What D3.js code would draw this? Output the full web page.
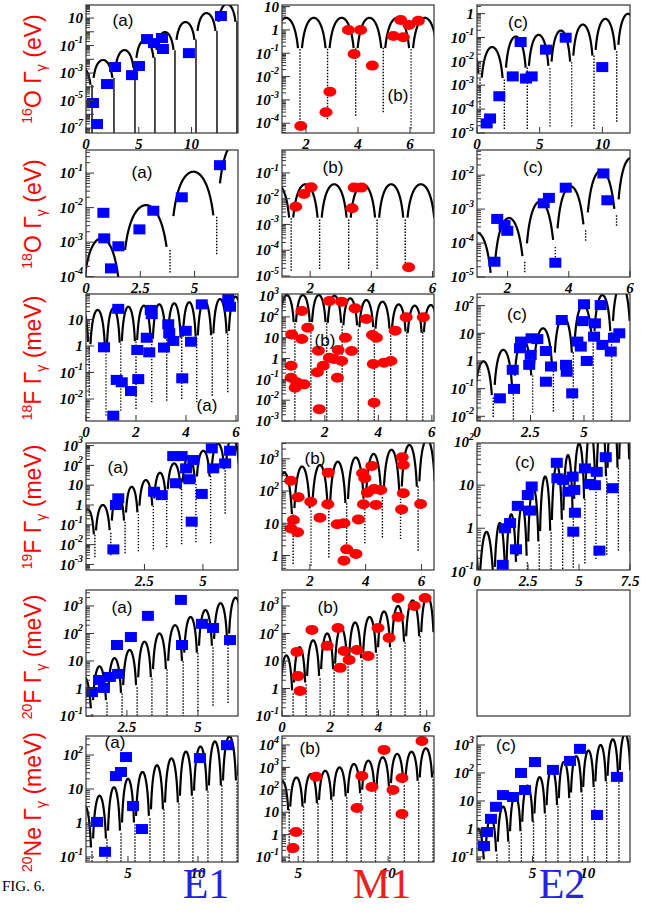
<!DOCTYPE html>
<html><head><meta charset="utf-8">
<script src="https://cdn.jsdelivr.net/npm/d3@7"></script>
<style>body{margin:0;background:#fff}svg{display:block}</style>
</head><body>
<svg id="c" width="657" height="913"></svg>
<script>
// ================= DATA (x in MeV, widths as log10) =================
// --- 16O ---
const o16E1Zeros=[-1.45,0.57,2.65,4.64,6.53,8.43,10.42,12.41,14.3,16.2];
const o16E1Peaks=[-2.56,-2.05,-1.33,-0.6,-0.02,0.71,1.36,2.02,2.6];
const o16E1Mins=[-9,-9,-9,-9,-9,-9,-9,-9,-9,-9];
const o16E1X=[0.66,1.04,1.99,2.75,4.36,5.02,5.78,6.44,7.2,7.29,9.75,12.78];
const o16E1LogG=[-5.18,-6.71,-3.8,-2.56,-3.15,-2.49,-0.53,-0.82,-0.45,-1.25,-1.55,1.15];

const o16M1Zeros=[0.7,1.77,2.83,3.91,4.97,6.04,7.1];
const o16M1Peaks=[0.52,0.52,0.52,0.52,0.52,0.52];
const o16M1Mins=[-4,-4.08,-3.8,-3.65,-3.5,-4.2,-4];
const o16M1X=[1.8,2.77,2.92,3.63,4.1,3.85,4.55,5.36,5.64,5.96,5.74,6.32];
const o16M1LogG=[-4.12,-3.53,-2.65,0.0,0.0,-1.03,-1.53,-0.26,0.43,0.21,-0.31,0.39];

const o16E2Zeros=[-1.66,0.24,2.18,4.01,5.82,7.55,9.33,11.14,12.95];
const o16E2Peaks=[-1.2,-1.4,-0.96,-0.89,-0.71,-0.46,-0.22,-0.01];
const o16E2Mins=[-6,-4.04,-4.8,-4.8,-4.7,-4.7,-4.8,-4.5,-5];
const o16E2X=[0.77,1.04,1.78,2.85,3.48,3.91,4.36,5.5,7.07,9.99];
const o16E2LogG=[-4.6,-4.39,-3.46,-2.63,-1.19,-2.72,-2.63,-1.51,-1.01,-2.24];

// --- 18O ---
const o18E1Zeros=[-0.22,1.64,3.87,6.02,8.1];
const o18E1Peaks=[-2.89,-1.93,-0.96,0.0];
const o18E1Mins=[-6,-5,-3.86,-3.33,-3];
const o18E1X=[0.8,0.84,1.49,1.15,2.46,3.1,4.41,6.17];
const o18E1LogG=[-2.15,-2.89,-3.12,-3.76,-2.63,-2.09,-1.7,-0.77];

const o18M1Zeros=[0.45,1.38,2.31,3.26,4.19,5.11,6.13];
const o18M1Peaks=[-1.44,-1.44,-1.44,-1.44,-1.44,-1.44];
const o18M1Mins=[-5,-4.77,-4.7,-4.7,-4.7,-4.7,-5];
const o18M1X=[1.53,1.8,2.03,3.37,3.44,3.67,5.22];
const o18M1LogG=[-2.31,-1.82,-1.56,-2.37,-1.57,-1.57,-4.66];

const o18E2Zeros=[0.48,1.52,2.56,3.56,4.55,5.56,6.5];
const o18E2Peaks=[-3.7,-3.27,-2.78,-2.34,-1.87,-1.5];
const o18E2Mins=[-6,-5.5,-4.84,-4.4,-3.91,-3.47,-3];
const o18E2X=[1.57,1.66,1.9,1.99,3.18,3.35,3.56,3.9,5.13,5.26];
const o18E2LogG=[-4.55,-3.29,-3.47,-3.64,-2.83,-2.67,-4.58,-2.37,-1.95,-2.74];

// --- 18F ---
const f18E1Zeros=[-0.48,0.13,0.8,1.39,2.0,2.63,3.23,3.83,4.43,5.05,5.67,6.29];
const f18E1Peaks=[1.45,1.36,1.42,1.48,1.52,1.57,1.61,1.65,1.7,1.77,1.86];
const f18E1Mins=[-3,-1.85,-2.6,-2.42,-2.35,-2.1,-2.04,-1.97,-2.1,-1.85,-1.72,-2];
const f18E1X=[1.29,0.72,1.23,1.43,1.8,2.09,2.05,2.43,2.53,2.59,2.63,3.29,3.33,3.12,3.49,3.85,3.99,4.2,4.63,5.69,5.76,1.09];
const f18E1LogG=[1.4,-0.05,-1.28,-1.37,-1.7,-1.25,-0.15,0.31,-0.24,1.36,1.2,0.82,0.48,-0.06,0.19,-1.22,0.57,0.16,1.57,1.77,1.48,-2.63];

const f18M1Zeros=[0.28,0.88,1.48,2.07,2.65,3.25,3.85,4.46,5.06,5.66,6.26];
const f18M1Peaks=[3.05,3.05,3.05,3.02,2.89,2.81,2.73,2.6,2.54,2.57];
const f18M1Mins=[-3.2,-3.2,-3.2,-3.2,-3.2,-3.2,-3.2,-3.2,-3.2,-3.2,-3.2];
const f18M1X=[1.14,0.76,1.14,1.36,0.74,0.74,0.95,1.22,0.89,1.76,1.72,1.94,2.17,2.34,2.17,2.63,2.47,2.5,2.77,2.63,3.0,3.13,1.79,3.55,3.78,3.93,3.81,4.21,4.47,4.63,3.84,5.04,5.68];
const f18M1LogG=[2.28,1.16,0.94,1.48,-0.35,-0.92,-1.14,-1.24,-1.4,0.38,-0.66,-0.35,0.04,-0.02,2.76,2.73,-0.92,0.41,1.0,-0.12,0.36,2.41,-2.43,1.9,1.13,1.0,-0.26,-0.2,-0.12,1.34,-2.12,1.98,1.98];

const f18E2Zeros=[-0.16,0.76,1.7,2.6,3.57,4.5,5.43,6.29,7.2];
const f18E2Peaks=[-0.02,0.4,0.76,1.18,1.6,2.02,2.38,2.75];
const f18E2Mins=[-3,-2.0,-2.1,-1.85,-1.8,-2.1,-2.1,-2.3,-2.3];
const f18E2X=[1.07,1.67,1.73,2.01,2.06,2.44,2.55,2.82,2.51,3.22,3.22,3.46,3.96,4.16,4.19,4.45,4.69,4.85,5.13,5.0,4.94,5.47,5.51,5.78,5.86,6.25,6.4,6.65];
const f18E2LogG=[-1.35,-0.32,-1.01,0.46,0.7,-0.14,0.82,0.79,0.22,0.36,-0.75,-0.2,1.48,-0.14,-0.39,-1.17,0.7,0.52,0,2.05,1.44,0.88,1.36,2.02,0.58,0.34,0.84,1.0];

// --- 19F ---
const f19E1Zeros=[-0.24,0.38,1.06,1.67,2.24,2.88,3.45,4.09,4.7,5.33,5.95,6.57];
const f19E1Peaks=[-0.22,0.0,0.5,0.92,1.26,1.63,2.1,2.44,2.74,3.1,3.4];
const f19E1Mins=[-4,-2.6,-2.5,-2.4,-2.3,-2.2,-2.1,-1.95,-1.85,-1.9,-0.4,-1];
const f19E1X=[1.17,1.28,1.38,2.91,3.24,3.85,4.09,4.28,4.42,4.52,4.59,4.95,5.38,5.44,6.16,5.95,3.73];
const f19E1LogG=[-2.24,0,0.34,0.67,0.5,1.1,2.47,1.85,1.3,-0.84,2.27,0.56,2.86,1.85,2.74,2.1,2.47];

const f19M1Zeros=[0.76,1.4,2.04,2.68,3.32,3.97,4.6,5.25,5.88,6.52];
const f19M1Peaks=[2.57,2.76,2.81,2.91,3.04,3.15,3.28,3.43,3.6];
const f19M1Mins=[-1,-0.24,-0.3,-0.04,0.2,0.4,0.58,0.53,0.17,0];
const f19M1X=[1.31,1.58,1.41,1.32,1.56,2.03,2.36,2.66,2.64,2.98,3.22,3.32,3.22,3.65,3.74,3.89,3.97,4.06,3.92,4.22,4.3,4.54,4.37,5.31,5.35,5.35,5.29,5.97];
const f19M1LogG=[2.32,1.81,1.1,0.84,0.72,1.67,1.17,2.57,1.59,0.97,1.0,0.19,-0.16,0.05,1.12,2.55,2.4,1.95,1.59,2.78,2.06,2.03,1.57,3.05,2.81,1.93,1.43,1.6];

const f19E2Zeros=[-0.5,0.1,0.83,1.41,1.95,2.47,3.05,3.63,4.2,4.72,5.29,5.83,6.36,6.93,7.5];
const f19E2Peaks=[-0.3,-0.12,0.1,0.31,0.52,0.93,1.2,1.47,1.7,1.97,2.3,2.5,2.7,2.9];
const f19E2Mins=[-2,-1.2,-1.2,-1.2,-1.2,-1.2,-1.2,-1.1,-1.0,-0.9,-0.8,-0.7,-0.6,-0.5,-0.5];
const f19E2X=[1.26,1.37,1.62,1.91,2.0,2.49,2.6,2.68,3.91,3.94,4.23,4.48,4.69,4.77,4.8,4.72,5.29,5.54,5.78,5.87,6.0,6.31,6.65];
const f19E2LogG=[-0.85,0,0.12,-0.49,0.52,0.77,0.41,0.97,1.52,1.16,1.12,0.85,1.2,0.89,0.36,-0.08,1.39,1.03,1.0,1.31,-0.52,1.65,0.93];

// --- 20F ---
const f20E1Zeros=[0.74,1.27,1.8,2.33,2.86,3.38,3.91,4.48,5.0,5.53,6.06,6.59];
const f20E1Peaks=[0.4,0.8,1.1,1.4,1.7,2.0,2.3,2.6,2.85,3.1,3.3];
const f20E1Mins=[-1.5,-1.2,-1.2,-1.2,-1.2,-1.2,-1.1,-1,-0.8,-0.6,-0.5,-0.5];
const f20E1X=[1.27,1.52,1.69,1.9,2.19,2.15,2.64,3.24,4.4,4.44,5.14,5.53,6.13];
const f20E1LogG=[-0.13,0.31,0.02,0.42,0.53,1.58,1.87,2.64,3.22,1.58,2.35,2.2,1.76];

const f20M1Zeros=[-0.1,0.46,1.0,1.58,2.16,2.74,3.32,3.94,4.52,5.1,5.73,6.32];
const f20M1Peaks=[1.2,1.5,1.75,2.0,2.2,2.4,2.6,2.8,3.0,3.2,3.35];
const f20M1Mins=[-1.2,-1.2,-1.2,-1.2,-1.2,-1.2,-1.2,-1.2,-1.2,-1.2,-1.2,-1.2];
const f20M1X=[0.62,0.66,0.75,1.24,1.87,2.32,2.57,2.78,2.41,3.11,3.57,3.98,4.44,4.81,4.81,5.48,5.93];
const f20M1LogG=[1.33,0.45,-0.09,2.13,1.55,2.2,1.36,1.04,0.75,1.4,1.18,2.2,1.84,2.6,3.29,3.0,3.29];

// --- 20Ne ---
const ne20E1Zeros=[1.4,2.43,3.5,4.5,5.5,6.57,7.57,8.64,9.64,10.71,11.71,12.79,13.8];
const ne20E1Peaks=[0.5,0.8,1.05,1.3,1.5,1.7,1.9,2.1,2.25,2.4,2.55,2.7];
const ne20E1Mins=[-1.5,-1.5,-1.5,-1.5,-1.5,-1.5,-1.5,-1.5,-1.5,-1.5,-1.5,-1.5,-1.5];
const ne20E1X=[2.79,3.36,4.14,4.5,4.86,5.36,6.0,10.14,12.07];
const ne20E1LogG=[0.03,-0.85,1.38,1.5,1.94,0.5,-0.18,1.91,2.29];

const ne20M1Zeros=[3.7,4.5,5.3,6.1,6.9,7.7,8.5,9.3,10.1,10.9,11.7,12.5,13.3];
const ne20M1Peaks=[2.4,2.55,2.7,2.85,3.0,3.15,3.3,3.45,3.6,3.7,3.85,4.0];
const ne20M1Mins=[-1.5,-1.5,-1.5,-1.5,-1.5,-1.5,-1.5,-1.5,-1.5,-1.5,-1.5,-1.5,-1.5];
const ne20M1X=[4.71,4.88,5.99,8.27,8.54,9.1,9.77,10.27,10.77,10.77,11.88];
const ne20M1LogG=[-0.6,0.12,2.58,1.19,2.62,2.13,3.78,1.99,2.53,0.92,4.18];

const ne20E2Zeros=[-0.5,0.7,1.8,2.9,4.0,5.1,6.2,7.3,8.4,9.5,10.6,11.7,12.8,13.9];
const ne20E2Peaks=[0,0.4,0.8,1.2,1.55,1.85,2.15,2.4,2.6,2.8,3.0,3.2,3.4];
const ne20E2Mins=[-1.5,-1.5,-1.5,-1.5,-1.5,-1.5,-1.5,-1.5,-1.5,-1.5,-1.5,-1.5,-1.5,-1.5];
const ne20E2X=[0.63,0.9,1.26,1.71,2.34,3.25,3.97,4.33,5.23,6.85,8.39,9.29,10.82,12.62];
const ne20E2LogG=[-0.61,-0.11,0.36,0.79,1.21,1.14,2.0,1.39,2.39,2.11,2.43,2.86,0.5,1.86];

// labels
const rowNuclei=[["16","O","eV"],["18","O","eV"],["18","F","meV"],["19","F","meV"],["20","F","meV"],["20","Ne","meV"]];
const multipoles=["E1","M1","E2"];

// ================= LAYOUT =================
const colX=[[86,238],[282,434],[477,630]];
const rowY=[[5,133],[150,277],[294,421],[443,570],[590,716],[736,862]];

const panels=[
 {r:0,c:0,xd:[0,14.4],yd:[-7.36,1.95],xt:[0,5,10],ye:[1,-1,-3,-5,-7],Z:o16E1Zeros,P:o16E1Peaks,M:o16E1Mins,X:o16E1X,G:o16E1LogG,lab:"(a)",lp:[123,20],gap:1.2},
 {r:0,c:1,xd:[1.08,6.92],yd:[-4.42,1.07],xt:[2,4,6],ye:[1,0,-1,-2,-3,-4],Z:o16M1Zeros,P:o16M1Peaks,M:o16M1Mins,X:o16M1X,G:o16M1LogG,lab:"(b)",lp:[398,95]},
 {r:0,c:2,xd:[0,12.2],yd:[-5.0,0.36],xt:[0,5,10],ye:[0,-1,-2,-3,-4,-5],Z:o16E2Zeros,P:o16E2Peaks,M:o16E2Mins,X:o16E2X,G:o16E2LogG,lab:"(c)",lp:[518,22]},
 {r:1,c:0,xd:[0,7],yd:[-4.01,-0.33],xt:[0,2.5,5],ye:[-1,-2,-3,-4],Z:o18E1Zeros,P:o18E1Peaks,M:o18E1Mins,X:o18E1X,G:o18E1LogG,lab:"(a)",lp:[142,172]},
 {r:1,c:1,xd:[1.08,6.05],yd:[-5.04,-0.11],xt:[2,4,6],ye:[-1,-2,-3,-4,-5],Z:o18M1Zeros,P:o18M1Peaks,M:o18M1Mins,X:o18M1X,G:o18M1LogG,lab:"(b)",lp:[333,167]},
 {r:1,c:2,xd:[1,6],yd:[-5.0,-1.26],xt:[2,4,6],ye:[-2,-3,-4,-5],Z:o18E2Zeros,P:o18E2Peaks,M:o18E2Mins,X:o18E2X,G:o18E2LogG,lab:"(c)",lp:[533,167]},
 {r:2,c:0,xd:[0,6.08],yd:[-2.83,1.96],xt:[0,2,4,6],ye:[1,0,-1,-2],Z:f18E1Zeros,P:f18E1Peaks,M:f18E1Mins,X:f18E1X,G:f18E1LogG,lab:"(a)",lp:[207,405]},
 {r:2,c:1,xd:[0.4,6.08],yd:[-3.0,3.1],xt:[2,4,6],ye:[3,2,1,0,-1,-2,-3],Z:f18M1Zeros,P:f18M1Peaks,M:f18M1Mins,X:f18M1X,G:f18M1LogG,lab:"(b)",lp:[325,340]},
 {r:2,c:2,xd:[0,7.15],yd:[-2.17,2.42],xt:[0,2.5,5],ye:[2,1,0,-1,-2],Z:f18E2Zeros,P:f18E2Peaks,M:f18E2Mins,X:f18E2X,G:f18E2LogG,lab:"(c)",lp:[517,314]},
 {r:3,c:0,xd:[0,6.5],yd:[-3.28,3.13],xt:[2.5,5],ye:[3,2,1,0,-1,-2,-3],Z:f19E1Zeros,P:f19E1Peaks,M:f19E1Mins,X:f19E1X,G:f19E1LogG,lab:"(a)",lp:[118,467]},
 {r:3,c:1,xd:[1,6.45],yd:[-0.45,3.49],xt:[2,4,6],ye:[3,2,1,0],Z:f19M1Zeros,P:f19M1Peaks,M:f19M1Mins,X:f19M1X,G:f19M1LogG,lab:"(b)",lp:[315,458]},
 {r:3,c:2,xd:[0,7.5],yd:[-0.97,1.98],xt:[0,2.5,5,7.5],ye:[2,1,0,-1],Z:f19E2Zeros,P:f19E2Peaks,M:f19E2Mins,X:f19E2X,G:f19E2LogG,lab:"(c)",lp:[525,462]},
 {r:4,c:0,xd:[1.06,6.41],yd:[-1.0,3.58],xt:[2.5,5],ye:[3,2,1,0,-1],Z:f20E1Zeros,P:f20E1Peaks,M:f20E1Mins,X:f20E1X,G:f20E1LogG,lab:"(a)",lp:[122,607]},
 {r:4,c:1,xd:[0,6.3],yd:[-1.0,3.58],xt:[0,2,4,6],ye:[3,2,1,0,-1],Z:f20M1Zeros,P:f20M1Peaks,M:f20M1Mins,X:f20M1X,G:f20M1LogG,lab:"(b)",lp:[328,607]},
 {r:4,c:2,empty:true},
 {r:5,c:0,xd:[2.0,12.86],yd:[-1.15,2.56],xt:[5,10],ye:[2,1,0,-1],Z:ne20E1Zeros,P:ne20E1Peaks,M:ne20E1Mins,X:ne20E1X,G:ne20E1LogG,lab:"(a)",lp:[115,742]},
 {r:5,c:1,xd:[4.1,12.55],yd:[-1.22,4.4],xt:[5,10],ye:[4,3,2,1,0,-1],Z:ne20M1Zeros,P:ne20M1Peaks,M:ne20M1Mins,X:ne20M1X,G:ne20M1LogG,lab:"(b)",lp:[310,748]},
 {r:5,c:2,xd:[0,13.8],yd:[-1.18,3.32],xt:[5,10],ye:[3,2,1,0,-1],Z:ne20E2Zeros,P:ne20E2Peaks,M:ne20E2Mins,X:ne20E2X,G:ne20E2LogG,lab:"(c)",lp:[506,745]}
];

const svg=d3.select("#c");
const defs=svg.append("defs");
const tickFont="'Liberation Serif','DejaVu Serif',serif";
const sansFont="'Liberation Sans',Arial,sans-serif";
const RED="#ff0000", BLUE="#0000ff";

function drawCurve(g,x,y,Z,P,M,gap,yb0){
  const line=d3.line().x(d=>x(d[0])).y(d=>y(d[1]));
  const depth=1.3;
  const xd=x.domain();
  const tc=Math.asin(Math.sqrt(Math.pow(10,-depth)))/Math.PI;
  for(let i=0;i<P.length;i++){
    const a=Z[i],b=Z[i+1],w=b-a;
    if(b<xd[0]||a>xd[1]) continue;
    const pk=Math.pow(10,P[i]),fl=Math.pow(10,M[i]),fr=Math.pow(10,M[i+1]);
    const pts=[];const N=160;
    for(let k=0;k<=N;k++){
      const t=tc+(1-2*tc)*k/N;const s=Math.sin(Math.PI*t);
      pts.push([a+w*t,pk*s*s+(t<0.5?fl:fr)]);
    }
    g.append("path").attr("d",line(pts)).attr("fill","none").attr("stroke","#000").attr("stroke-width",2.2).attr("stroke-linejoin","round");
  }
  let dp="";
  for(let j=0;j<Z.length;j++){
    const z=Z[j];if(z<xd[0]||z>xd[1]) continue;
    const cl=j>0?P[j-1]-depth:Infinity, cr=j<P.length?P[j]-depth:Infinity;
    const top=Math.min(cl,cr);
    if(M[j]>=top) continue;
    let yb=Math.min(y(Math.pow(10,M[j])),yb0+2), yt=y(Math.pow(10,top));
    const px=x(z);
    for(let py=yb;py>yt;py-=gap) dp+=`M${(px-0.7).toFixed(2)},${(py-0.7).toFixed(2)}h1.4v1.4h-1.4z`;
  }
  g.append("path").attr("d",dp).attr("fill","#000");
}

panels.forEach((p,idx)=>{
  const [x0,x1]=colX[p.c],[y0,y1]=rowY[p.r];
  const g=svg.append("g");
  if(p.empty){
    g.append("rect").attr("x",x0).attr("y",y0).attr("width",x1-x0).attr("height",y1-y0).attr("fill","none").attr("stroke","#333").attr("stroke-width",1.2);
    return;
  }
  const x=d3.scaleLinear().domain(p.xd).range([x0,x1]);
  const y=d3.scaleLog().domain([Math.pow(10,p.yd[0]),Math.pow(10,p.yd[1])]).range([y1,y0]);
  defs.append("clipPath").attr("id","cp"+idx).append("rect").attr("x",x0).attr("y",y0).attr("width",x1-x0).attr("height",y1-y0);
  const inner=g.append("g").attr("clip-path",`url(#cp${idx})`);
  drawCurve(inner,x,y,p.Z,p.P,p.M,p.gap||3,y1);
  const pts=p.X.map((v,i)=>[v,Math.pow(10,p.G[i])]);
  if(p.c===1){
    inner.selectAll("ellipse.m").data(pts).enter().append("ellipse")
      .attr("cx",d=>x(d[0])).attr("cy",d=>y(d[1])).attr("rx",6.5).attr("ry",5).attr("fill",RED);
  }else{
    inner.selectAll("rect.m").data(pts).enter().append("rect")
      .attr("x",d=>x(d[0])-6).attr("y",d=>y(d[1])-5).attr("width",12).attr("height",10).attr("fill",BLUE);
  }
  g.append("rect").attr("x",x0).attr("y",y0).attr("width",x1-x0).attr("height",y1-y0).attr("fill","none").attr("stroke","#333").attr("stroke-width",1.2);
  const lo=Math.floor(p.yd[0]),hi=Math.ceil(p.yd[1]);
  let tp="";
  for(let e=lo;e<=hi;e++){
    for(let k=1;k<=9;k++){
      const v=k*Math.pow(10,e);const lv=Math.log10(v);
      if(lv<p.yd[0]||lv>p.yd[1]) continue;
      tp+=`M${x0},${y(v).toFixed(2)}h${k===1?8:4}`;
    }
  }
  p.xt.forEach(v=>{tp+=`M${x(v).toFixed(2)},${y1}v-6`;});
  g.append("path").attr("d",tp).attr("stroke","#333").attr("stroke-width",1).attr("fill","none");
  p.ye.forEach(e=>{
    const t=g.append("text").attr("x",x0-3).attr("y",y(Math.pow(10,e))).attr("dy","0.35em")
      .attr("text-anchor","end").style("font-family",tickFont).style("font-weight","bold").style("font-style","italic").style("font-size","15px");
    if(e===0) t.text("1");
    else if(e===1) t.text("10");
    else{
      t.append("tspan").text("10");
      t.append("tspan").text(String(e)).style("font-size","10px").attr("dy","-0.75em");
    }
  });
  p.xt.forEach(v=>{
    g.append("text").attr("x",x(v)).attr("y",y1+11).attr("dy","0.35em").attr("text-anchor","middle")
      .style("font-family",tickFont).style("font-weight","bold").style("font-style","italic").style("font-size","15px").text(String(v));
  });
  g.append("text").attr("x",p.lp[0]).attr("y",p.lp[1]).attr("dy","0.35em").attr("text-anchor","middle")
    .style("font-family",sansFont).style("font-size","17px").text(p.lab);
});

const titleCY=[69,214,358,507,657,802];
rowNuclei.forEach((n,i)=>{
  const t=svg.append("text").attr("transform",`translate(41,${titleCY[i]}) rotate(-90)`).attr("text-anchor","middle")
    .attr("fill",RED).style("font-family",sansFont).style("font-size","23px");
  t.append("tspan").text(n[0]).style("font-size","14px").attr("dy","-9");
  t.append("tspan").text(n[1]).attr("dy","9");
  t.append("tspan").text(" \u0393");
  t.append("tspan").text("\u03b3").style("font-size","14px").attr("dy","5");
  t.append("tspan").text(" ("+n[2]+")").attr("dy","-5");
});

svg.append("text").attr("x",2).attr("y",891).style("font-family","'Liberation Serif',serif").style("font-size","15px").text("FIG. 6.");
const capX=[206,382,562],capC=["#2323e0","#e82020","#2323e0"];
multipoles.forEach((m,i)=>{
  svg.append("text").attr("x",capX[i]).attr("y",898).attr("text-anchor","middle").attr("fill",capC[i])
    .style("font-family","'Liberation Serif',serif").style("font-size","42px").text(m);
});
</script></body></html>
